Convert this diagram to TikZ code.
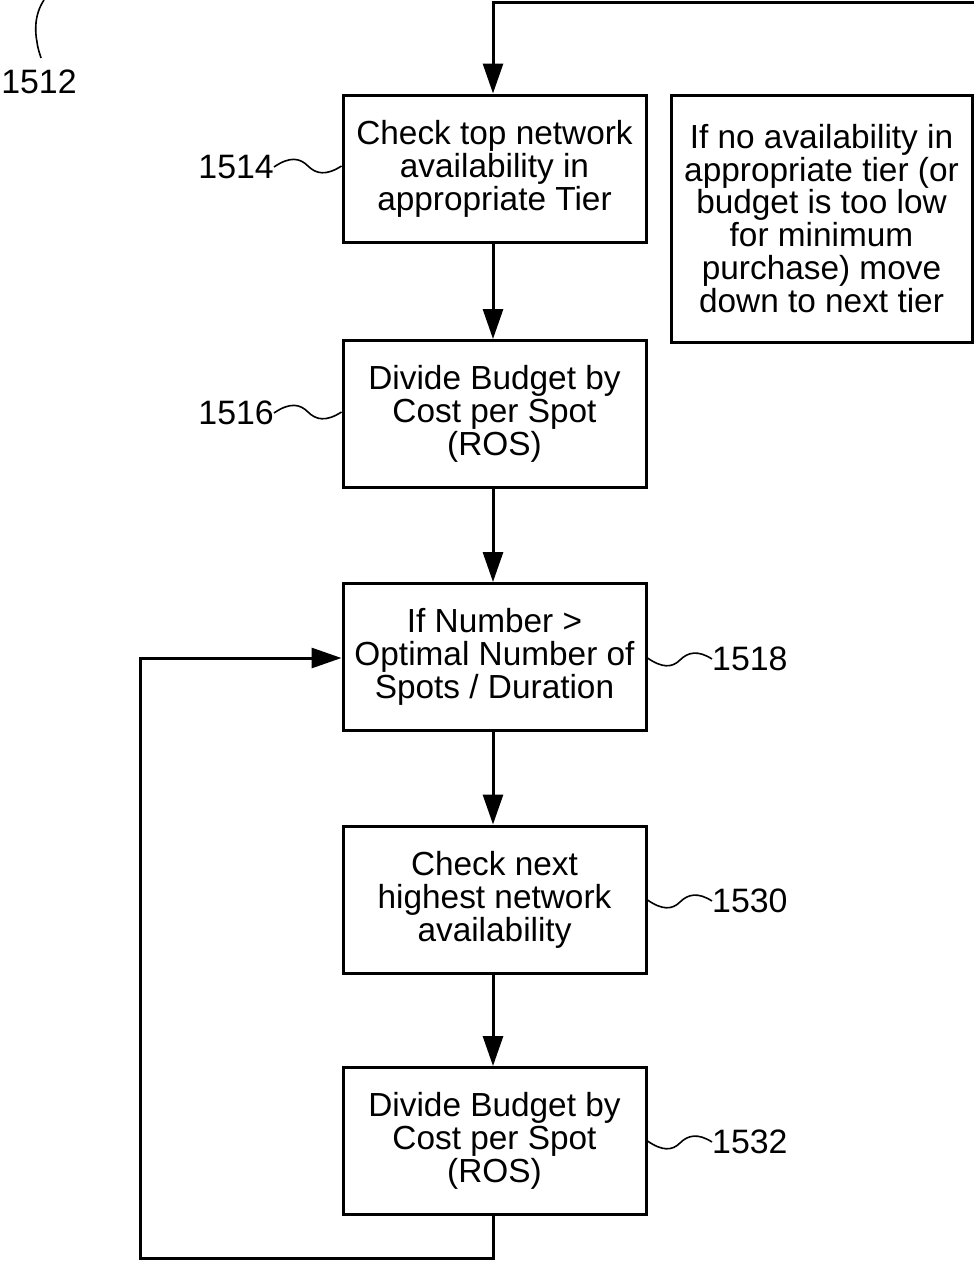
\documentclass[tikz,border=0pt]{standalone}
\usepackage{fontspec}
\setmainfont{Liberation Sans}
\usetikzlibrary{arrows.meta}
\begin{document}
\begin{tikzpicture}[x=1bp,y=-1bp,
  box/.style={draw,line width=3bp,minimum width=303bp,minimum height=147bp,align=center,inner sep=0pt,font=\fontsize{33.5}{33}\selectfont},
  lbl/.style={font=\fontsize{34}{33}\selectfont,inner sep=0pt},
  conn/.style={line width=3bp},
  arr/.style={conn,-{Triangle[length=30bp,width=20bp]}},
  sq/.style={line width=1.6bp}]
\useasboundingbox (0,0) rectangle (974,1262);
\node[box] (b1514) at (494.5,168.5) {Check top network\\availability in\\appropriate Tier};
\node[box,minimum width=301bp,minimum height=247bp] (note) at (821.5,218.5) {If no availability in\\appropriate tier (or\\budget is too low\\for minimum\\purchase) move\\down to next tier};
\node[box] (b1516) at (494.5,414) {Divide Budget by\\Cost per Spot\\(ROS)};
\node[box] (b1518) at (494.5,657) {If Number >\\Optimal Number of\\Spots / Duration};
\node[box] (b1530) at (494.5,899.5) {Check next\\highest network\\availability};
\node[box] (b1532) at (494.5,1141) {Divide Budget by\\Cost per Spot\\(ROS)};
% labels
\node[lbl,anchor=east] (l1514) at (274,167) {1514};
\node[lbl,anchor=east] (l1516) at (274,413) {1516};
\node[lbl,anchor=west] (l1518) at (712,659) {1518};
\node[lbl,anchor=west] (l1530) at (712,901) {1530};
\node[lbl,anchor=west] (l1532) at (712,1142) {1532};
\node[lbl] (l1512) at (39,82) {1512};
% squiggles
\draw[sq] (l1514.east) .. controls (290,156) and (300,158) .. (308,166) .. controls (316,174) and (326,176) .. (b1514.west|-0,166);
\draw[sq] (l1516.east) .. controls (290,402) and (300,404) .. (308,412) .. controls (316,420) and (326,422) .. (b1516.west|-0,412);
\draw[sq] (b1518.east|-0,658) .. controls (662,668) and (672,668) .. (680,660) .. controls (688,652) and (698,650) .. (l1518.west);
\draw[sq] (b1530.east|-0,900) .. controls (662,910) and (672,910) .. (680,902) .. controls (688,894) and (698,892) .. (l1530.west);
\draw[sq] (b1532.east|-0,1141) .. controls (662,1151) and (672,1151) .. (680,1143) .. controls (688,1135) and (698,1133) .. (l1532.west);
\coordinate (t1512) at (44,0);
\coordinate (e1512) at (41,58);
\draw[sq] (t1512) .. controls (34,15) and (35,32) .. (37,42) .. controls (38,50) and (40,54) .. (e1512);
% connectors
\coordinate (topR) at (974,2);
\draw[arr] (topR) -- (493,2) -- (b1514.north-|493,0);
\draw[arr] (b1514.south-|493,0) -- (b1516.north-|493,0);
\draw[arr] (b1516.south-|493,0) -- (b1518.north-|493,0);
\draw[arr] (b1518.south-|493,0) -- (b1530.north-|493,0);
\draw[arr] (b1530.south-|493,0) -- (b1532.north-|493,0);
\draw[arr] (b1532.south-|493,0) -- (493,1258) -- (140,1258) -- (140,658) -- (b1518.west|-0,658);
\end{tikzpicture}
\end{document}
